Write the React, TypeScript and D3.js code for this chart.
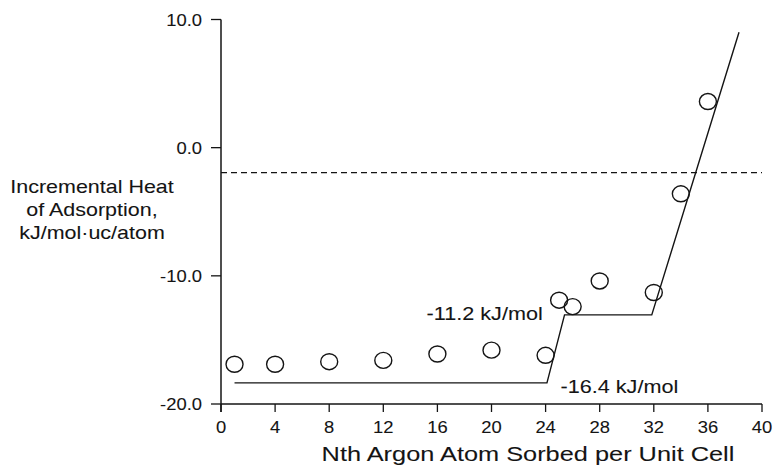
import { useEffect, useRef } from 'react';
import * as d3 from 'd3';

// measured points (circles)
const atomN = [1, 4, 8, 12, 16, 20, 24, 25, 26, 28, 32, 34, 36];
const heat = [-16.9, -16.9, -16.7, -16.6, -16.1, -15.8, -16.2, -11.9, -12.4, -10.4, -11.3, -3.6, 3.6];

// fitted step model
const fitN = [1, 24.1, 25.4, 31.85, 38.3];
const fitHeat = [-18.35, -18.35, -13.05, -13.05, 9.0];

// reference level (dashed)
const refLevel = -1.95;

const xTicks = [0, 4, 8, 12, 16, 20, 24, 28, 32, 36, 40];
const yTicks = [10, 0, -10, -20];
const yTitle = ['Incremental Heat', 'of Adsorption,', 'kJ/mol\u00b7uc/atom'];
const notes = [
  { text: '-11.2 kJ/mol', n: 15.2, v: -12.6 },
  { text: '-16.4 kJ/mol', n: 25.1, v: -18.3 },
];

const W = 774;
const H = 468;
const FONT = '"Liberation Sans", Arial, Helvetica, sans-serif';
const INK = '#141414';

export default function App() {
  const ref = useRef<SVGSVGElement | null>(null);

  useEffect(() => {
    const svg = d3.select(ref.current);
    svg.selectAll('*').remove();

    const x = d3.scaleLinear().domain([0, 40]).range([221, 762]);
    const y = d3.scaleLinear().domain([-20, 10]).range([404, 19.5]);

    // the scan is stretched sideways, so text gets a horizontal scale
    const label = (g: any, px: number, py: number, txt: string, size: number, sx: number, anchor: string) =>
      g.append('text')
        .attr('transform', `translate(${px},${py}) scale(${sx},1)`)
        .attr('text-anchor', anchor)
        .attr('font-family', FONT)
        .attr('font-size', size)
        .attr('fill', INK)
        .attr('stroke', INK)
        .attr('stroke-width', 0.08)
        .text(txt);

    // axes
    svg.append('line')
      .attr('x1', x(0)).attr('x2', x(0))
      .attr('y1', y(10)).attr('y2', y(-20) + 8)
      .attr('stroke', INK).attr('stroke-width', 1.5);
    svg.append('line')
      .attr('x1', x(0)).attr('x2', x(40))
      .attr('y1', y(-20)).attr('y2', y(-20))
      .attr('stroke', INK).attr('stroke-width', 1.3);

    yTicks.forEach(t => {
      svg.append('line')
        .attr('x1', x(0) - 10).attr('x2', x(0))
        .attr('y1', y(t)).attr('y2', y(t))
        .attr('stroke', INK).attr('stroke-width', 1.3);
      label(svg, x(0) - 19, y(t) + 6, t.toFixed(1), 16, 1.15, 'end');
    });

    xTicks.forEach(t => {
      svg.append('line')
        .attr('x1', x(t)).attr('x2', x(t))
        .attr('y1', y(-20)).attr('y2', y(-20) + 8)
        .attr('stroke', INK).attr('stroke-width', 1.3);
      label(svg, x(t), y(-20) + 29, String(t), 16, 1.15, 'middle');
    });

    label(svg, 528, 461, 'Nth Argon Atom Sorbed per Unit Cell', 19.5, 1.3, 'middle');

    yTitle.forEach((s, i) => {
      label(svg, 92, 193 + i * 23, s, 19, 1.13, 'middle');
    });

    // dashed reference
    svg.append('line')
      .attr('x1', x(0)).attr('x2', x(40))
      .attr('y1', y(refLevel)).attr('y2', y(refLevel))
      .attr('stroke', INK).attr('stroke-width', 1.4)
      .attr('stroke-dasharray', '6,4');

    // fit line
    const line = d3.line<number>()
      .x((_, i) => x(fitN[i]))
      .y(d => y(d));
    svg.append('path')
      .attr('d', line(fitHeat))
      .attr('fill', 'none')
      .attr('stroke', INK).attr('stroke-width', 1.4);

    // points
    svg.selectAll('.pt').data(heat).join('ellipse')
      .attr('class', 'pt')
      .attr('cx', (_, i) => x(atomN[i]))
      .attr('cy', d => y(d))
      .attr('rx', 8.5).attr('ry', 8)
      .attr('fill', 'none')
      .attr('stroke', INK).attr('stroke-width', 1.4);

    notes.forEach(n => {
      label(svg, x(n.n), y(n.v) + 11, n.text, 18.5, 1.17, 'start');
    });
  }, []);

  return (
    <svg
      ref={ref}
      width={W}
      height={H}
      style={{ position: 'absolute', left: 0, top: 0, background: '#fff' }}
    />
  );
}
